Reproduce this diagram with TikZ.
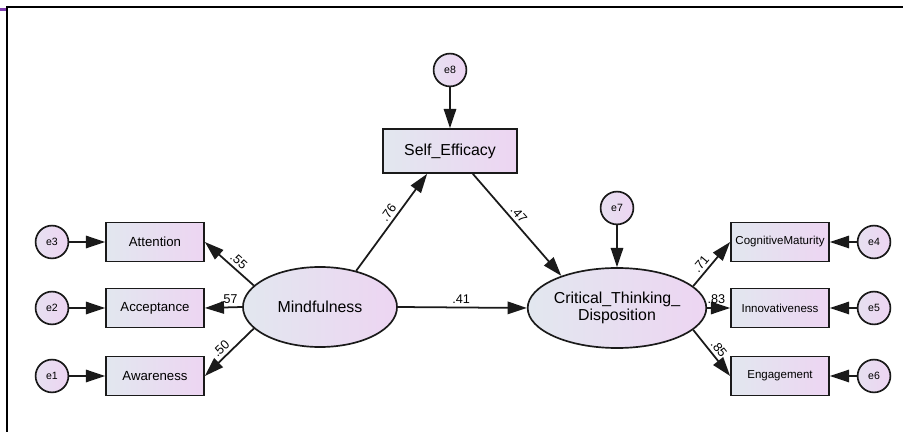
\documentclass[tikz,border=0pt]{standalone}
\usepackage{fontspec}
\setmainfont{Liberation Sans}
\usepackage{tikz}
\usetikzlibrary{arrows.meta,shapes.geometric}
\definecolor{ink}{HTML}{1A1A1A}
\definecolor{haze}{HTML}{E2E7EF}
\definecolor{lilac}{HTML}{EDD5F2}
\definecolor{frameviolet}{HTML}{7E3FB0}

\begin{document}
\begin{tikzpicture}[
  x=0.025cm,
  y=-0.025cm,
  latent/.style={ellipse, draw=ink, line width=1.2pt, left color=haze, right color=lilac, minimum width=3.85cm, minimum height=2cm, inner sep=0pt, align=center, font=\fontsize{11.3}{12.5}\selectfont},
  obs/.style={rectangle, draw=ink, line width=1.2pt, left color=haze, right color=lilac, minimum width=2.45cm, minimum height=0.975cm, inner sep=0pt, font=\fontsize{9.4}{11}\selectfont},
  obsr/.style={obs, font=\fontsize{8.2}{10}\selectfont},
  err/.style={circle, draw=ink, line width=1.2pt, left color=haze!60!lilac, right color=lilac, minimum size=0.82cm, inner sep=0pt, font=\fontsize{7.5}{9}\selectfont},
  coef/.style={font=\fontsize{9}{10}\selectfont, inner sep=2.2pt, sloped, above},
  arrow/.style={-{Triangle[length=4.8mm,width=3.1mm]}, line width=1.25pt, draw=ink}
]
  \useasboundingbox (0,0) rectangle (903,432);
  % frame
  \draw[line width=1.5pt] (7,432) -- (7,7) -- (903,7);
  \draw[frameviolet, line width=1.6pt] (0,9.5) -- (6,9.5);

  \node[err] (e8) at (450,70) {e8};
  \node[obs, minimum width=3.35cm, minimum height=1.1cm, font=\fontsize{11.3}{12.5}\selectfont] (self) at (450,151) {Self\_Efficacy};

  \node[latent] (mind) at (320,307) {Mindfulness};
  \node[latent, minimum width=3.8cm] (ctd) at (617,308) {Critical\_Thinking\_\\Disposition};
  \node[err] (e7) at (617,208) {e7};

  \node[obs] (att) at (155,242) {Attention};
  \node[obs] (acc) at (155,308) {Acceptance};
  \node[obs] (awa) at (155,376) {Awareness};
  \node[err] (e3) at (52,242) {e3};
  \node[err] (e2) at (52,308) {e2};
  \node[err] (e1) at (52,376) {e1};

  \node[obsr] (cog) at (780,242) {CognitiveMaturity};
  \node[obsr] (inn) at (780,308) {Innovativeness};
  \node[obsr] (eng) at (780,376) {Engagement};
  \node[err] (e4) at (874,242) {e4};
  \node[err] (e5) at (874,308) {e5};
  \node[err] (e6) at (874,376) {e6};

  \draw[arrow] (e3) -- (att);
  \draw[arrow] (e2) -- (acc);
  \draw[arrow] (e1) -- (awa);
  \draw[arrow] (mind.162) -- node[coef, pos=0.42] {.55} (att.east);
  \draw[arrow] (mind.west) -- node[coef, pos=0.35] {.57} (acc.east);
  \draw[arrow] (mind.198) -- node[coef, pos=0.55] {.50} (awa.east);

  \draw[arrow] (e8) -- (self);
  \draw[arrow] (mind.45) -- node[coef, pos=0.55] {.76} (self.225);
  \draw[arrow] (self.315) -- node[coef, pos=0.45] {.47} (ctd.150);
  \draw[arrow] (mind.east) -- node[coef, pos=0.49] {.41} (ctd.west);
  \draw[arrow] (e7) -- (ctd);

  \draw[arrow] (ctd.16) -- node[coef, pos=0.38] {.71} (cog.west);
  \draw[arrow] (ctd.east) -- node[coef, pos=0.4] {.83} (inn.west);
  \draw[arrow] (ctd.-16) -- node[coef, pos=0.52] {.85} (eng.west);
  \draw[arrow] (e4) -- (cog);
  \draw[arrow] (e5) -- (inn);
  \draw[arrow] (e6) -- (eng);
\end{tikzpicture}
\end{document}
